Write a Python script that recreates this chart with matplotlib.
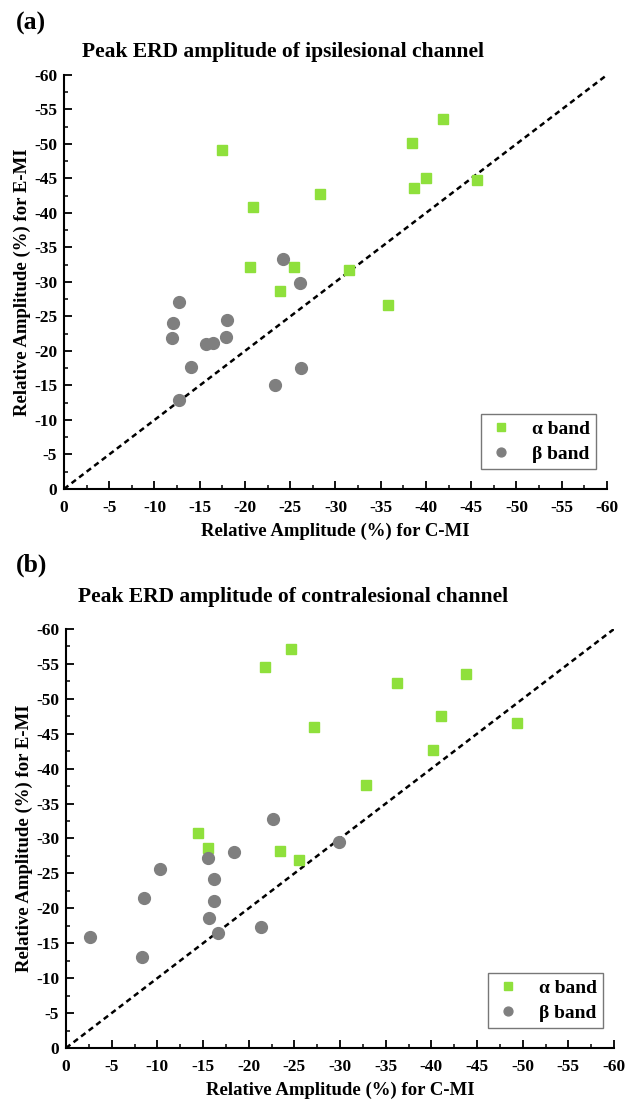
import numpy as np
import matplotlib
matplotlib.use("Agg")
import matplotlib.pyplot as plt
from matplotlib.ticker import MultipleLocator

plt.rcParams['font.family'] = ['Liberation Serif', 'DejaVu Serif']
plt.rcParams['font.weight'] = 'bold'

# (a) ipsilesional channel
a_alpha_x = [-17.5, -20.9, -20.5, -25.4, -23.9, -28.3, -41.9, -38.5, -40.0, -38.7, -45.6, -31.5, -35.8]
a_alpha_y = [-49.1, -40.9, -32.2, -32.1, -28.7, -42.7, -53.6, -50.1, -45.0, -43.6, -44.8, -31.8, -26.6]
a_beta_x = [-24.2, -26.1, -12.7, -12.1, -11.9, -18.0, -17.9, -15.7, -16.5, -14.0, -26.2, -23.3, -12.7]
a_beta_y = [-33.3, -29.8, -27.1, -24.0, -21.9, -24.5, -22.0, -21.0, -21.2, -17.7, -17.5, -15.0, -12.9]

# (b) contralesional channel
b_alpha_x = [-14.5, -15.6, -21.8, -24.6, -23.4, -25.5, -27.2, -36.2, -43.8, -41.1, -40.2, -49.4, -32.8]
b_alpha_y = [-30.8, -28.7, -54.5, -57.1, -28.2, -26.9, -45.9, -52.3, -53.5, -47.6, -42.7, -46.6, -37.7]
b_beta_x = [-22.7, -18.4, -15.5, -10.3, -16.2, -16.2, -8.5, -15.7, -16.6, -21.3, -2.6, -8.3, -29.9]
b_beta_y = [-32.8, -28.1, -27.2, -25.7, -24.2, -21.0, -21.5, -18.6, -16.4, -17.3, -15.9, -13.1, -29.5]

titles = ["Peak ERD amplitude of ipsilesional channel", "Peak ERD amplitude of contralesional channel"]
panel_labels = ["(a)", "(b)"]
ticks = [0, -5, -10, -15, -20, -25, -30, -35, -40, -45, -50, -55, -60]

green = "#8fe03c"
gray = "#7f7f7f"

fig = plt.figure(figsize=(6.31, 11.07), dpi=100)
ax_a = fig.add_axes([0.1014, 0.5583, 0.8605, 0.374])
ax_b = fig.add_axes([0.1046, 0.0533, 0.8685, 0.3785])

panels = [
    (ax_a, a_alpha_x, a_alpha_y, a_beta_x, a_beta_y),
    (ax_b, b_alpha_x, b_alpha_y, b_beta_x, b_beta_y),
]

for i, (ax, ax_x, ax_y, bx, by) in enumerate(panels):
    ax.plot([0, -60], [0, -60], color="black", linestyle=(0, (2.2, 1.6)), linewidth=1.8, zorder=1)
    ax.plot(ax_x, ax_y, linestyle="none", marker="s", markersize=7.5, color=green, label="α band", zorder=3)
    ax.plot(bx, by, linestyle="none", marker="o", markersize=8.5, color=gray, label="β band", zorder=3)

    ax.set_xlim(0, -60)
    ax.set_ylim(0, -60)
    ax.set_xticks(ticks)
    ax.set_yticks(ticks)
    ax.set_xticklabels([str(t) for t in ticks])
    ax.set_yticklabels([str(t) for t in ticks])
    ax.xaxis.set_minor_locator(MultipleLocator(2.5))
    ax.yaxis.set_minor_locator(MultipleLocator(2.5))
    ax.tick_params(which="major", direction="in", length=6, width=1.3, labelsize=12.5)
    ax.tick_params(axis="x", which="major", pad=8)
    ax.tick_params(axis="y", which="major", pad=5)
    ax.tick_params(which="minor", direction="in", length=3, width=1.1)

    for s in ["top", "right"]:
        ax.spines[s].set_visible(False)
    for s in ["left", "bottom"]:
        ax.spines[s].set_linewidth(1.5)

    ax.set_xlabel("Relative Amplitude (%) for C-MI", fontsize=13.5, fontweight="bold", labelpad=5)
    ax.set_ylabel("Relative Amplitude (%) for E-MI", fontsize=13.5, fontweight="bold", labelpad=2)

    leg = ax.legend(loc="lower right", bbox_to_anchor=(0.997, 0.025), fancybox=False,
                    edgecolor="#555555", fontsize=14, handletextpad=0.9, markerscale=0.75,
                    borderpad=0.3, labelspacing=0.4, handlelength=1.4)
    leg.get_frame().set_linewidth(1.0)

fig.text(0.025, 0.979, panel_labels[0], fontsize=18.5, fontweight="bold", va="center", ha="left")
fig.text(0.13, 0.953, titles[0], fontsize=15.5, fontweight="bold", va="center", ha="left")
fig.text(0.025, 0.489, panel_labels[1], fontsize=18.5, fontweight="bold", va="center", ha="left")
fig.text(0.124, 0.461, titles[1], fontsize=15.5, fontweight="bold", va="center", ha="left")

fig.savefig("out.png", dpi=100)
